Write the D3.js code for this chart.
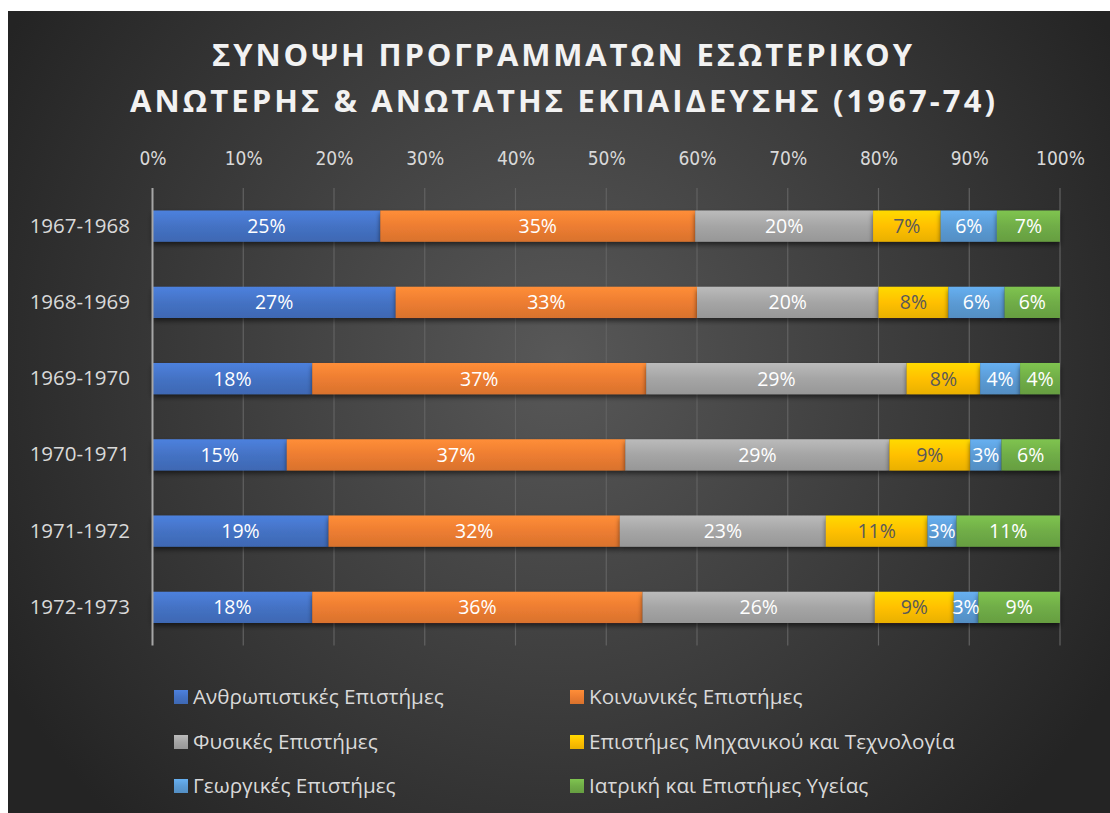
<!DOCTYPE html>
<html><head><meta charset="utf-8">
<script src="https://cdn.jsdelivr.net/npm/d3@7"></script>
<style>html,body{margin:0;padding:0;background:#fff;}svg{display:block;}</style>
</head><body>
<script>
const titleLines = ["ΣΥΝΟΨΗ ΠΡΟΓΡΑΜΜΑΤΩΝ ΕΣΩΤΕΡΙΚΟΥ", "ΑΝΩΤΕΡΗΣ & ΑΝΩΤΑΤΗΣ ΕΚΠΑΙΔΕΥΣΗΣ (1967-74)"];
const categories = ["1967-1968", "1968-1969", "1969-1970", "1970-1971", "1971-1972", "1972-1973"];
const seriesNames = ["Ανθρωπιστικές Επιστήμες", "Κοινωνικές Επιστήμες", "Φυσικές Επιστήμες", "Επιστήμες Μηχανικού και Τεχνολογία", "Γεωργικές Επιστήμες", "Ιατρική και Επιστήμες Υγείας"];
const humanities  = [25.1, 26.8, 17.6, 14.8, 19.4, 17.6];
const social      = [34.7, 33.2, 36.8, 37.3, 32.1, 36.4];
const natural     = [19.6, 20.0, 28.7, 29.1, 22.7, 25.6];
const engineering = [7.45, 7.7, 8.1, 8.9, 11.2, 8.7];
const agriculture = [6.2, 6.2, 4.4, 3.45, 3.2, 2.7];
const medicine    = [6.95, 6.1, 4.4, 6.45, 11.4, 9.0];
const tickValues = [0, 0.1, 0.2, 0.3, 0.4, 0.5, 0.6, 0.7, 0.8, 0.9, 1.0];

const seriesData = [humanities, social, natural, engineering, agriculture, medicine];
const colors = ["#4472C4", "#ED7D31", "#A5A5A5", "#FFC000", "#5B9BD5", "#70AD47"];
const labelColors = ["#ffffff", "#ffffff", "#ffffff", "#595959", "#ffffff", "#ffffff"];

const W = 1110, H = 813;
const svg = d3.select("body").append("svg").attr("width", W).attr("height", H);
const defs = svg.append("defs");

const bg = defs.append("radialGradient").attr("id", "bg")
  .attr("gradientUnits", "userSpaceOnUse").attr("cx", 560).attr("cy", 360).attr("r", 640);
bg.append("stop").attr("offset", "0").attr("stop-color", "#585858");
bg.append("stop").attr("offset", "1").attr("stop-color", "#242424");

colors.forEach((c, i) => {
  const g = defs.append("linearGradient").attr("id", "g" + i).attr("x1", 0).attr("y1", 0).attr("x2", 0).attr("y2", 1);
  g.append("stop").attr("offset", "0").attr("stop-color", d3.color(c).brighter(0.35));
  g.append("stop").attr("offset", "0.5").attr("stop-color", c);
  g.append("stop").attr("offset", "1").attr("stop-color", d3.color(c).darker(0.25));
});
const sh = defs.append("filter").attr("id", "shadow").attr("x", "-5%").attr("y", "-20%").attr("width", "110%").attr("height", "160%");
sh.append("feDropShadow").attr("dx", 0).attr("dy", 3).attr("stdDeviation", 2.5).attr("flood-color", "#000").attr("flood-opacity", 0.55);

svg.append("rect").attr("x", 8).attr("y", 11).attr("width", W - 8).attr("height", H - 11).attr("fill", "url(#bg)");

// Title
const titleBaselines = [66, 112];
const titleX = [[212, 912], [130, 995]];
titleLines.forEach((t, i) => {
  svg.append("text").attr("x", titleX[i][0]).attr("y", titleBaselines[i])
    .attr("textLength", titleX[i][1] - titleX[i][0]).attr("lengthAdjust", "spacing")
    .attr("font-family", "'Open Sans', sans-serif").attr("font-weight", 700)
    .attr("font-size", 31).attr("fill", "#f2f2f2").text(t);
});

const x = d3.scaleLinear().domain([0, 1]).range([152.5, 1060]);
const y = d3.scaleBand().domain(categories).range([188, 645.5]).paddingInner(0.59).paddingOuter(0.295);

// gridlines
svg.append("g").selectAll("line").data(tickValues.slice(1)).join("line")
  .attr("x1", d => x(d)).attr("x2", d => x(d)).attr("y1", 188).attr("y2", 645.5)
  .attr("stroke", "#626262").attr("stroke-width", 1.2);

// top axis
const axisTop = svg.append("g").attr("transform", "translate(0,165)")
  .call(d3.axisTop(x).tickValues(tickValues).tickFormat(d3.format(".0%")).tickSize(0).tickPadding(0));
axisTop.select(".domain").remove();
axisTop.selectAll("text").attr("fill", "#d9d9d9").attr("font-size", 19)
  .attr("font-family", "'Liberation Sans Narrow','DejaVu Sans Condensed',sans-serif");

// stacked data
const rows = categories.map((c, i) => {
  const o = { cat: c };
  seriesData.forEach((s, k) => o["s" + k] = s[i]);
  return o;
});
const keys = seriesData.map((s, k) => "s" + k);
const stack = d3.stack().keys(keys).offset(d3.stackOffsetExpand);
const stacked = stack(rows);

const barsG = svg.append("g");
stacked.forEach((layer, k) => {
  barsG.append("g").attr("filter", "url(#shadow)").selectAll("rect").data(layer).join("rect")
    .attr("x", d => x(d[0])).attr("width", d => x(d[1]) - x(d[0]))
    .attr("y", d => y(d.data.cat)).attr("height", y.bandwidth())
    .attr("fill", "url(#g" + k + ")");
});
stacked.forEach((layer, k) => {
  barsG.append("g").selectAll("text").data(layer).join("text")
    .attr("x", d => (x(d[0]) + x(d[1])) / 2).attr("y", d => y(d.data.cat) + y.bandwidth() / 2)
    .attr("dy", "0.36em").attr("text-anchor", "middle")
    .attr("font-family", "'Open Sans', sans-serif").attr("font-size", 19.5)
    .attr("fill", labelColors[k])
    .text(d => Math.round((d[1] - d[0]) * 100) + "%");
});

// vertical axis line
svg.append("line").attr("x1", x(0)).attr("x2", x(0)).attr("y1", 188).attr("y2", 645.5)
  .attr("stroke", "#a6a6a6").attr("stroke-width", 2);

// category labels
const axisLeft = svg.append("g").attr("transform", "translate(130,0)")
  .call(d3.axisLeft(y).tickSize(0).tickPadding(0));
axisLeft.select(".domain").remove();
axisLeft.selectAll("text").attr("fill", "#d9d9d9").attr("font-size", 20.5)
  .attr("font-family", "'Open Sans', sans-serif");

// legend
const legendPos = [[174, 697], [570, 697], [174, 742], [570, 742], [174, 786], [570, 786]];
const legend = svg.append("g").selectAll("g").data(seriesNames).join("g")
  .attr("transform", (d, i) => `translate(${legendPos[i][0]},${legendPos[i][1]})`);
legend.append("rect").attr("x", 0).attr("y", -7).attr("width", 14).attr("height", 14)
  .attr("fill", (d, i) => `url(#g${i})`);
legend.append("text").attr("x", 19).attr("y", 0).attr("dy", "0.36em")
  .attr("font-family", "'Open Sans', sans-serif").attr("font-size", 20.7)
  .attr("fill", "#d9d9d9").text(d => d);
</script>
</body></html>
